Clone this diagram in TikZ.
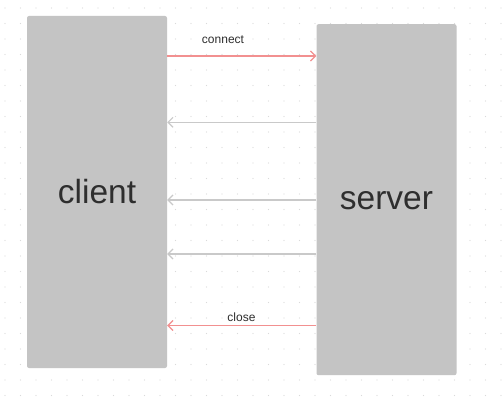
\documentclass[tikz,border=0pt]{standalone}
\usepackage{fontspec}
\setmainfont{Liberation Sans}
\usetikzlibrary{arrows.meta}
\definecolor{boxgray}{HTML}{C4C4C4}
\definecolor{linkred}{HTML}{F29090}
\definecolor{linkgray}{HTML}{C9C9C9}
\definecolor{txt}{HTML}{2E2E2E}
\definecolor{dotc}{HTML}{DADADA}
\tikzset{
  party/.style={fill=boxgray, draw=none, rounded corners=2pt, inner sep=0pt,
    text=txt, font=\fontsize{33.5}{40}\selectfont, minimum width=140pt},
  redlink/.style={draw=linkred, line width=1.2pt, -{Straight Barb[length=5pt,width=10pt]}},
  graylink/.style={draw=linkgray, line width=1.2pt, -{Straight Barb[length=5pt,width=10pt]}},
  msg/.style={text=txt, font=\fontsize{12}{14}\selectfont, inner sep=0pt},
}
\begin{document}
\begin{tikzpicture}[x=1pt,y=-1pt]
\useasboundingbox (0,0) rectangle (504,404);
\fill[white] (0,0) rectangle (504,404);
\foreach \i in {0,...,32} {
  \foreach \j in {0,...,25} {
    \fill[dotc] (5+15.5*\i, 8+15.5*\j) circle (0.6pt);
  }
}
\node[party, minimum height=352pt] (client) at (97,192) {client};
\node[party, minimum height=351pt, text height=20pt] (server) at (386.5,199.7) {server};
\coordinate (r1) at (0,56);
\coordinate (r2) at (0,122.3);
\coordinate (r3) at (0,200);
\coordinate (r4) at (0,254);
\coordinate (r5) at (0,325.5);
\draw[redlink] (client.east |- r1) -- (server.west |- r1);
\draw[graylink] (server.west |- r2) -- (client.east |- r2);
\draw[graylink] (server.west |- r3) -- (client.east |- r3);
\draw[graylink] (server.west |- r4) -- (client.east |- r4);
\draw[redlink] (server.west |- r5) -- (client.east |- r5);
\node[msg] (lconnect) at (223,40) {connect};
\node[msg] (lclose) at (241.5,317) {close};
\end{tikzpicture}
\end{document}
